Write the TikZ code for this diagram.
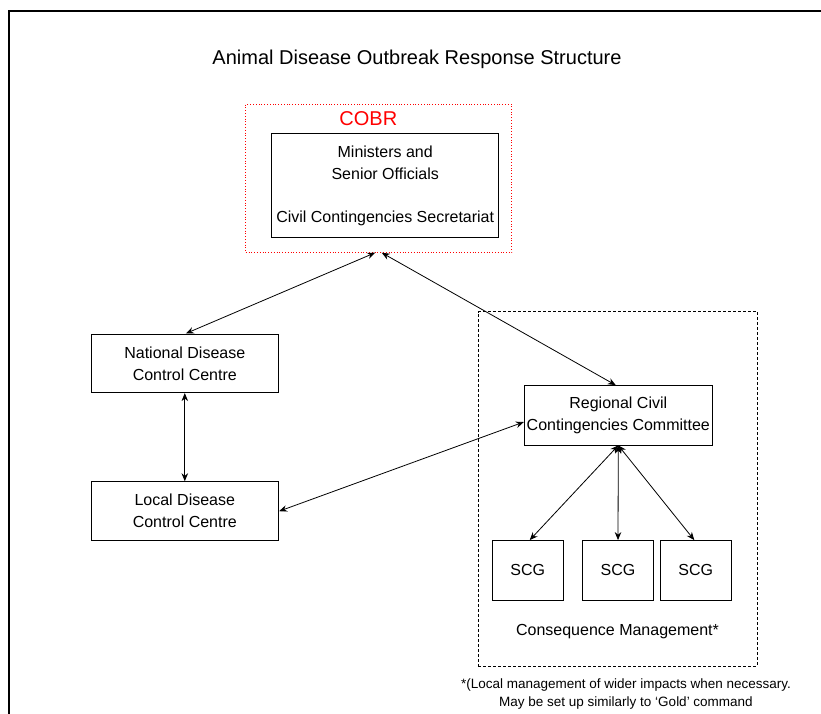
\documentclass[tikz,border=0pt]{standalone}
\usepackage{fontspec}
\setmainfont{Liberation Sans}
\usetikzlibrary{arrows.meta}

\begin{document}
\begin{tikzpicture}[x=1pt,y=-1pt,
    box/.style={draw,line width=.9pt,align=center,inner sep=0pt,font=\fontsize{16}{22}\selectfont},
    scgbox/.style={box,minimum width=71.5pt,minimum height=59.5pt},
    link/.style={<->,line width=.8pt,>={Stealth[length=8pt,width=6.5pt]}}]
    \useasboundingbox (0,0) rectangle (821,714);
    \draw[line width=2pt] (8.5,714) -- (8.5,11) -- (821,11);
    \node[font=\fontsize{20}{24}\selectfont] (title) at (417,59) {Animal Disease Outbreak Response Structure};
    % COBR ====================================================
    \node[draw=red,dotted,line width=.8pt,minimum width=266pt,minimum height=148pt] (cobr) at (378.7,178.3) {};
    \node[red,font=\fontsize{20}{24}\selectfont] (cobrlabel) at (368.3,118.5) {COBR};
    \node[box,minimum width=227pt,minimum height=103.6pt] (ministers) at (385.2,185.5)
        {Ministers and\\Senior Officials\\[21pt]Civil Contingencies Secretariat};
    % Disease control =========================================
    \node[box,minimum width=187.7pt,minimum height=58.7pt] (ndcc) at (184.8,363.3) {National Disease\\Control Centre};
    \node[box,minimum width=187.7pt,minimum height=59pt]   (ldcc) at (184.8,511.2) {Local Disease\\Control Centre};
    % Consequence management ==================================
    \node[draw,dashed,line width=.8pt,dash pattern=on 3pt off 2pt,minimum width=279pt,minimum height=354.3pt] (cm) at (617.8,488.8) {};
    \node[box,minimum width=188pt,minimum height=59.3pt] (rccc) at (618.3,415.3) {Regional Civil\\Contingencies Committee};
    \node[scgbox] (scg1) at (527.7,570.3) {SCG};
    \node[scgbox] (scg2) at (618,570.3)   {SCG};
    \node[scgbox] (scg3) at (695.8,570.3) {SCG};
    \node[font=\fontsize{16}{22}\selectfont] (cmlabel) at (617.5,632) {Consequence Management*};
    \node[align=center,font=\fontsize{13.5}{18}\selectfont] (note) at (626,694.5)
        {*(Local management of wider impacts when necessary.\\May be set up similarly to `Gold' command};
    % Links ===================================================
    \draw[link] ([xshift=-3.5pt]cobr.south) -- ([xshift=1pt]ndcc.north);
    \draw[link] ([xshift=3pt]cobr.south) -- ([xshift=-2.5pt]rccc.north);
    \draw[link] (ndcc) -- (ldcc);
    \draw[link] (ldcc.east) -- ([yshift=-6.7pt]rccc.west);
    \draw[link] (rccc.south) -- ([xshift=2pt]scg1.north);
    \draw[link] (rccc.south) -- (scg2.north);
    \draw[link] (rccc.south) -- ([xshift=-1.5pt]scg3.north);
\end{tikzpicture}
\end{document}
